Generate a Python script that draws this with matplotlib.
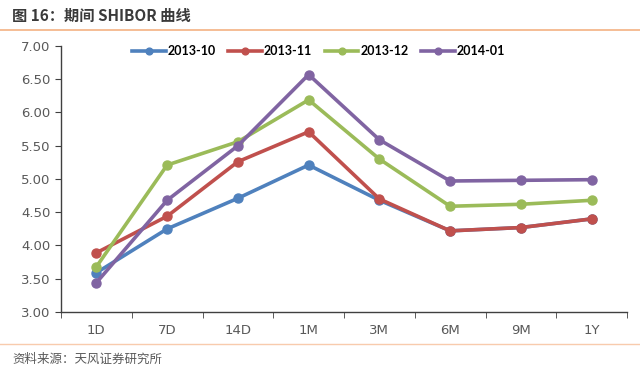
import matplotlib.pyplot as plt
import numpy as np

plt.rcParams['font.family'] = ['Noto Sans CJK SC', 'DejaVu Sans']

terms = ["1D", "7D", "14D", "1M", "3M", "6M", "9M", "1Y"]
s_2013_10 = [3.59, 4.25, 4.71, 5.21, 4.68, 4.22, 4.27, 4.40]
s_2013_11 = [3.89, 4.44, 5.26, 5.71, 4.70, 4.22, 4.27, 4.40]
s_2013_12 = [3.68, 5.21, 5.56, 6.19, 5.30, 4.59, 4.62, 4.68]
s_2014_01 = [3.44, 4.68, 5.50, 6.57, 5.59, 4.97, 4.98, 4.99]
labels = ["2013-10", "2013-11", "2013-12", "2014-01"]
colors = ["#4F81BD", "#C0504D", "#9BBB59", "#8064A2"]

fig = plt.figure(figsize=(6.4, 3.75), dpi=100)
ax = fig.add_axes([61 / 640, 1 - 312 / 375, 566 / 640, 266 / 375])

x = np.arange(len(terms))
for series, lab, c in zip([s_2013_10, s_2013_11, s_2013_12, s_2014_01], labels, colors):
    ax.plot(x, series, color=c, lw=2.6, marker="o", ms=6.5, label=lab)

ax.set_xlim(-0.5, len(terms) - 0.5)
ax.set_ylim(3.0, 7.0)
ax.set_yticks(np.arange(3.0, 7.01, 0.5))
ax.set_yticklabels(["%.2f" % v for v in np.arange(3.0, 7.01, 0.5)],
                   family="DejaVu Sans", fontsize=9.5, color="#595959")
ax.set_xticks(x)
ax.set_xticklabels(terms, family="DejaVu Sans", fontsize=9.5, color="#595959")
ax.set_xticks(np.arange(-0.5, len(terms)), minor=True)
ax.tick_params(axis="x", which="major", length=0, pad=9)
ax.tick_params(axis="x", which="minor", length=4, color="#404040", direction="out")
ax.tick_params(axis="y", length=4, color="#404040", direction="out")
for s in ["top", "right"]:
    ax.spines[s].set_visible(False)
for s in ["left", "bottom"]:
    ax.spines[s].set_color("#404040")
    ax.spines[s].set_linewidth(1.0)

leg = ax.legend(loc="upper center", bbox_to_anchor=(0.455, 1.045), ncol=4, frameon=False,
                handlelength=2.7, columnspacing=1.0, handletextpad=0.15, markerscale=0.75,
                prop={"family": "Lato", "weight": "bold", "size": 9})
for t in leg.get_texts():
    t.set_color("#000000")

fig.text(12 / 640, 1 - 16 / 375, "图 16：期间 SHIBOR 曲线", fontsize=11, fontweight="bold",
         color="#3a3a3a", va="center", ha="left")
fig.add_artist(plt.Line2D([0, 1], [1 - 30 / 375, 1 - 30 / 375], color="#F4B183", lw=1.2))
fig.add_artist(plt.Line2D([0, 1], [1 - 344 / 375, 1 - 344 / 375], color="#F8CBAD", lw=1.0))
fig.text(12 / 640, 1 - 359 / 375, "资料来源：天风证券研究所", fontsize=9, color="#595959",
         va="center", ha="left")

plt.savefig("out.png", dpi=100)
plt.close()
